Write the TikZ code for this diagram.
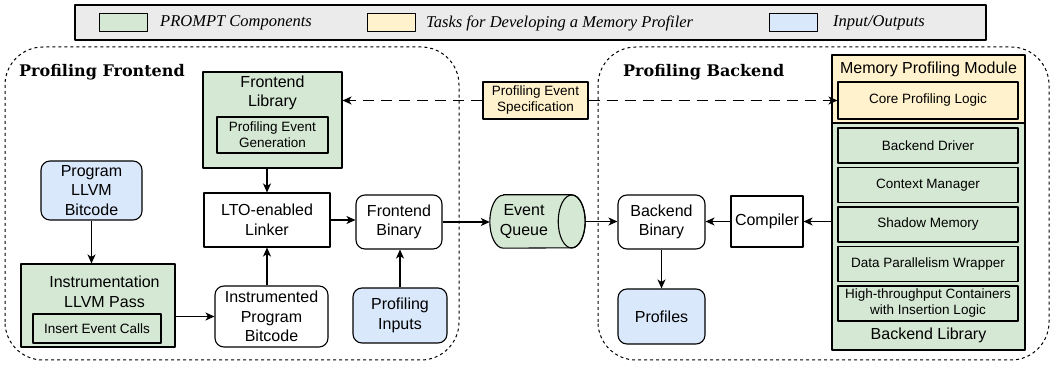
\documentclass[tikz,border=0pt]{standalone}
\usepackage{fontspec}
\setsansfont{Liberation Sans}
\newfontfamily\titlefont{DejaVu Serif}
\newfontfamily\legendfont{Liberation Serif}
\usepackage{tikz}
\usetikzlibrary{arrows.meta}
\usetikzlibrary{positioning}
\definecolor{greenfill}{HTML}{D5E8D4}
\definecolor{yellowfill}{HTML}{FFF2CC}
\definecolor{bluefill}{HTML}{DAE8FC}
\definecolor{legendgray}{HTML}{EBEBEB}
\newcommand\mainsize{\fontsize{16bp}{19.5bp}\selectfont}
\newcommand\innersize{\fontsize{13.5bp}{16bp}\selectfont}
\newcommand\legendsize{\fontsize{16.5bp}{20bp}\selectfont}

\begin{document}
\begin{tikzpicture}[>={Stealth[length=9bp,width=8bp,inset=2.5bp]},line join=bevel,
  box/.style={draw,line width=1.1bp,inner sep=0pt,align=center,font=\sffamily\mainsize},
  inbox/.style={box,font=\sffamily\innersize},
  rbox/.style={box,rounded corners=9bp},
  txt/.style={inner sep=0pt,align=center,font=\sffamily\mainsize},
  swatch/.style={draw,line width=1bp,minimum width=48bp,minimum height=18bp},
  legtxt/.style={anchor=west,inner sep=0pt,font=\legendfont\itshape\legendsize},
  title/.style={anchor=west,inner sep=0pt,font=\titlefont\bfseries\fontsize{16bp}{19bp}\selectfont},
  link/.style={->,line width=1.1bp},
  speclink/.style={->,line width=1.1bp,dash pattern=on 11bp off 7bp},
  region/.style={line width=1bp,dash pattern=on 3bp off 3bp,rounded corners=38bp}]
\useasboundingbox (0bp,0bp) rectangle (1053bp,367bp);
%% legend
\node (legend) at (530.5bp,344.5bp) [draw,line width=1.2bp,fill=legendgray,minimum width=911bp,minimum height=35bp] {};
\node (legG) at (123bp,344bp) [swatch,fill=greenfill] {};
\node (legGt) at (160bp,344bp) [legtxt] {PROMPT Components};
\node (legY) at (391bp,344bp) [swatch,fill=yellowfill] {};
\node (legYt) at (426bp,344bp) [legtxt] {Tasks for Developing a Memory Profiler};
\node (legB) at (793bp,344bp) [swatch,fill=bluefill] {};
\node (legBt) at (833bp,344bp) [legtxt] {Input/Outputs};
%% frontend / backend areas
\draw [region] (5bp,7bp) rectangle (459bp,320bp);
\draw [region] (598bp,7bp) rectangle (1049bp,320bp);
\node (FT) at (19bp,295bp) [title] {Profiling Frontend};
\node (BT) at (623bp,295bp) [title] {Profiling Backend};
%% frontend
\node (flib) at (272.5bp,247bp) [box,fill=greenfill,minimum width=139bp,minimum height=96bp] {};
\node (flibt) at (272.5bp,274bp) [txt] {Frontend\\Library};
\node (peg) at (272.5bp,232bp) [inbox,minimum width=111bp,minimum height=36bp] {Profiling Event\\Generation};
\node (prog) at (91.5bp,176.5bp) [rbox,fill=bluefill,minimum width=101bp,minimum height=59bp] {Program\\LLVM\\Bitcode};
\node (lto) at (267bp,147bp) [box,fill=white,minimum width=126bp,minimum height=54bp] {LTO-enabled\\Linker};
\node (instr) at (98bp,61.5bp) [box,fill=greenfill,minimum width=154bp,minimum height=83bp] {};
\node (instrt) at (104.5bp,75bp) [txt] {Instrumentation\\LLVM Pass};
\node (iec) at (97bp,38.5bp) [inbox,minimum width=128bp,minimum height=29bp] {Insert Event Calls};
\node (instd) at (271.5bp,50.5bp) [rbox,fill=white,minimum width=113bp,minimum height=61bp] {Instrumented\\Program\\Bitcode};
\node (fbin) at (399bp,145bp) [rbox,fill=white,minimum width=86bp,minimum height=54bp] {Frontend\\Binary};
\node (pin) at (400bp,51.5bp) [rbox,fill=bluefill,minimum width=94bp,minimum height=55bp] {Profiling\\Inputs};
%% event queue
\node (queue) at (537.5bp,145.5bp) [inner sep=0pt,minimum width=95bp,minimum height=53bp] {};
\draw [line width=1.1bp,fill=greenfill] ([xshift=13.5bp]queue.north west) -- ([xshift=-13.5bp]queue.north east)
  arc[start angle=90,end angle=-90,x radius=13.5bp,y radius=26.5bp] -- ([xshift=13.5bp]queue.south west)
  arc[start angle=270,end angle=90,x radius=13.5bp,y radius=26.5bp] -- cycle;
\draw [line width=1.1bp] ([xshift=-13.5bp]queue.east) ellipse [x radius=13.5bp,y radius=26.5bp];
\node (queuet) at (524bp,145.5bp) [txt] {Event\\Queue};
%% spec
\node (spec) at (535.5bp,266.5bp) [inbox,fill=yellowfill,minimum width=105bp,minimum height=37bp] {Profiling Event\\Specification};
%% backend
\node (bbin) at (661.5bp,145bp) [rbox,fill=white,minimum width=87bp,minimum height=54bp] {Backend\\Binary};
\node (prof) at (661.5bp,50.5bp) [rbox,fill=bluefill,minimum width=87bp,minimum height=55bp] {Profiles};
\node (comp) at (767bp,145.5bp) [box,fill=white,minimum width=72bp,minimum height=51bp] {Compiler};
\node (mpm) at (928.5bp,278bp) [box,fill=yellowfill,minimum width=193bp,minimum height=68bp] {};
\node (mpmt) at (928.5bp,298bp) [txt] {Memory Profiling Module};
\node (core) at (928bp,266.5bp) [inbox,minimum width=180bp,minimum height=37bp] {Core Profiling Logic};
\node (blib) at (928.5bp,130.5bp) [box,fill=greenfill,minimum width=193bp,minimum height=227bp] {};
\node (blibt) at (928.5bp,32bp) [txt] {Backend Library};
\node (bdrv) at (928bp,221.5bp) [inbox,minimum width=180bp,minimum height=35bp] {Backend Driver};
\node (ctx) at (928bp,182bp) [inbox,minimum width=180bp,minimum height=35bp] {Context Manager};
\node (shm) at (928bp,142.5bp) [inbox,minimum width=180bp,minimum height=35bp] {Shadow Memory};
\node (dpw) at (928bp,103bp) [inbox,minimum width=180bp,minimum height=35bp] {Data Parallelism Wrapper};
\node (htc) at (928bp,63.5bp) [inbox,minimum width=180bp,minimum height=35bp] {High-throughput Containers\\with Insertion Logic};
%% connectors
\draw [link] (lto.north |- flib.south) -- (lto.north);
\draw [link] (prog.south) -- (prog.south |- instr.north);
\draw [link] (instr.east |- instd.west) -- (instd.west);
\draw [link] (lto.south |- instd.north) -- (lto.south);
\draw [link] (lto.east) -- (lto.east -| fbin.west);
\draw [link] (pin.north) -- (pin.north |- fbin.south);
\draw [link] (fbin.east) -- (fbin.east -| queue.west);
\draw [link] (queue.east) -- (queue.east -| bbin.west);
\draw [link] (bbin.south) -- (prof.north);
\draw [link] (comp.east -| blib.west) -- (comp.east);
\draw [link] (comp.west) -- (comp.west -| bbin.east);
\draw [speclink] (spec.west) -- (spec.west -| flib.east);
\draw [speclink] (spec.east) -- (spec.east -| core.west);
%
\end{tikzpicture}
\end{document}
